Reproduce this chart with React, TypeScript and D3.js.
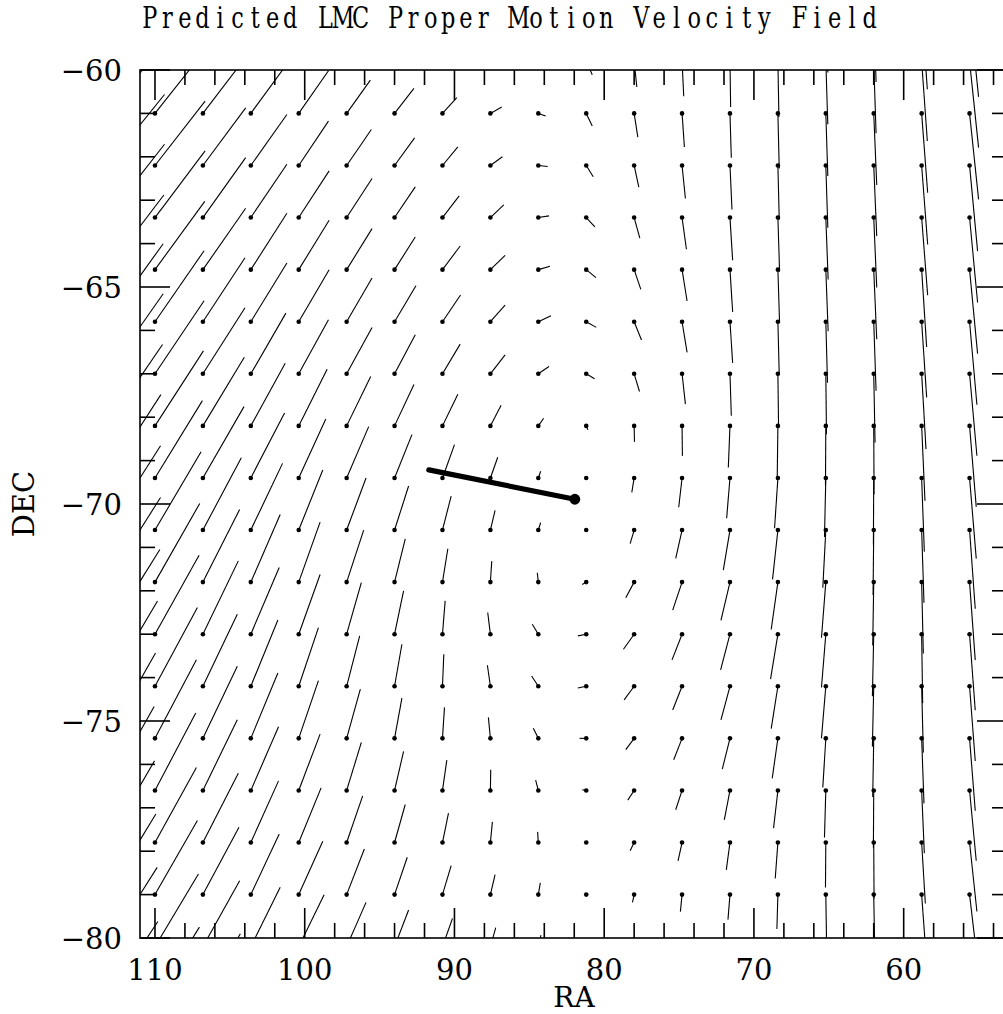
import React from "react";
import * as d3 from "d3";

// ---------- data ----------
const titleText = "Predicted LMC Proper Motion Velocity Field";
const xLabel = "RA";
const yLabel = "DEC";

// grid of field points (RA columns, Dec rows); some lie just outside the frame
const raCols = [113.2, 110.0, 106.8, 103.6, 100.4, 97.2, 94.0, 90.8, 87.6, 84.4, 81.2, 78.0, 74.8, 71.6, 68.4, 65.2, 62.0, 58.8, 55.6];
const decRows = [-58.6, -59.8, -61.0, -62.2, -63.4, -64.6, -65.8, -67.0, -68.2, -69.4, -70.6, -71.8, -73.0, -74.2, -75.4, -76.6, -77.8, -79.0, -80.2, -81.4];

// vector components (arrow units; east = +RA, north = +Dec), one array per RA column, one entry per Dec row
const vecE: (number | null)[][] = [
  [null, null, -172, -172, -172, -170, -168, -168, -166, -161, -160, -160, -158, -151, -145, -141, -142, -146, -150, -152],
  [null, null, -150, -150, -150, -149, -147, -147, -145, -142, -138, -134, -132, -127, -124, -122, -124, -127, -130, -133],
  [null, null, -128, -128, -128, -128, -126, -126, -124, -123, -115, -110, -106, -103, -103, -103, -106, -108, -110, -112],
  [null, null, -108, -108, -108, -108, -108, -105, -103, -101, -95, -88, -85, -81, -81, -83, -83, -85, -88, null],
  [null, null, -89, -89, -91, -91, -91, -89, -85, -81, -72, -64, -64, -59, -59, -64, -67, -72, -76, null],
  [null, null, -71, -74, -76, -76, -76, -76, -72, -66, -58, -51, -44, -39, -41, -44, -48, -53, -58, null],
  [null, null, -58, -60, -62, -62, -64, -62, -58, -52, -42, -32, -27, -22, -22, -27, -32, -38, -42, null],
  [null, null, -43, -46, -50, -53, -54, -53, -46, -36, -26, -16, -8, -4, -6, -13, -18, -26, -30, null],
  [null, null, -34, -36, -40, -44, -44, -44, -32, -22, -14, -4, 8, 9, 6, -1, -6, -14, -16, null],
  [null, null, -22, -28, -32, -35, -38, -32, -16, -7, -7, 3, 18, 20, 15, 8, 2, -6, -8, null],
  [null, -18, -18, -21, -26, -29, -30, -25, -5, -2, 0, 12, 25, 25, 20, 12, 2, 0, null, null],
  [null, -8, -11, -14, -17, -20, -22, -16, -1, 7, 12, 25, 32, 30, 25, 19, 12, 5, null, null],
  [null, -5, -7, -10, -13, -15, -15, -10, -1, 10, 19, 28, 30, 28, 25, 19, 12, 5, null, null],
  [null, -2, -4, -6, -8, -8, -8, -4, 5, 10, 20, 27, 28, 27, 23, 17, 11, 6, null, null],
  [null, -3, -4, -4, -5, -5, -4, -2, 2, 10, 16, 20, 22, 20, 17, 13, 8, 3, null, null],
  [-6, -6, -6, -6, -7, -7, -5, -2, 1, 4, 9, 13, 13, 13, 9, 4, 1, -2, null, null],
  [-7, -7, -9, -9, -9, -9, -7, -4, -1, 1, 2, 3, 4, 4, 3, 1, -1, -3, null, null],
  [-17, -17, -18, -18, -18, -15, -15, -13, -10, -8, -7, -5, -3, -5, -7, -8, -11, -13, null, null],
  [-27, -27, -27, -24, -24, -24, -22, -22, -20, -20, -17, -17, -17, -17, -17, -20, -22, -24, null, null],
];
const vecN: (number | null)[][] = [
  [null, null, 212, 213, 220, 224, 234, 240, 244, 250, 253, 254, 254, 256, 256, 252, 245, 242, 238, 232],
  [null, null, 190, 193, 200, 205, 213, 219, 225, 232, 235, 236, 237, 236, 236, 232, 225, 222, 218, 215],
  [null, null, 168, 173, 180, 184, 192, 198, 206, 214, 217, 218, 220, 216, 216, 212, 208, 202, 198, 195],
  [null, null, 148, 153, 160, 169, 176, 182, 188, 195, 200, 203, 200, 199, 196, 191, 185, 182, 178, null],
  [null, null, 128, 133, 140, 148, 156, 162, 170, 177, 180, 180, 179, 176, 173, 169, 164, 160, 156, null],
  [null, null, 100, 108, 117, 123, 131, 139, 148, 154, 156, 156, 155, 151, 148, 144, 140, 137, 133, null],
  [null, null, 75, 83, 92, 98, 108, 117, 124, 130, 132, 130, 130, 126, 121, 117, 114, 112, 110, null],
  [null, null, 47, 56, 65, 71, 80, 89, 95, 100, 102, 100, 100, 96, 93, 91, 88, 87, 85, null],
  [null, null, 19, 26, 38, 43, 50, 57, 62, 62, 59, 63, 65, 63, 63, 62, 62, 60, 57, null],
  [null, null, -8, -3, 5, 10, 18, 22, 23, 20, 22, 28, 30, 31, 30, 31, 32, 35, 35, null],
  [null, -40, -38, -34, -28, -24, -17, -15, -12, -2, 0, -7, -5, -5, 0, 2, -3, 0, null, null],
  [null, -77, -71, -65, -62, -59, -55, -53, -48, -43, -41, -47, -45, -41, -34, -29, -25, -23, null, null],
  [null, -105, -101, -99, -95, -94, -92, -91, -90, -88, -85, -84, -77, -71, -64, -58, -55, -51, null, null],
  [null, -137, -133, -132, -128, -127, -124, -126, -125, -121, -120, -115, -107, -101, -92, -88, -82, -75, null, null],
  [null, -167, -165, -163, -162, -160, -160, -158, -156, -151, -148, -142, -135, -127, -120, -113, -108, -103, null, null],
  [-190, -189, -188, -187, -186, -185, -183, -181, -179, -177, -173, -167, -160, -156, -147, -141, -135, -130, null, null],
  [-218, -216, -215, -212, -210, -209, -207, -206, -205, -200, -195, -190, -186, -181, -176, -172, -168, -165, null, null],
  [-240, -239, -238, -237, -233, -232, -227, -226, -225, -221, -218, -214, -207, -199, -195, -188, -183, -180, null, null],
  [-263, -259, -258, -257, -255, -252, -249, -246, -243, -242, -236, -234, -228, -224, -217, -211, -207, -205, null, null],
];

// LMC centre and its bulk motion (same arrow units)
const lmcCenter = { ra: 81.96, dec: -69.89 };
const lmcBulk = { e: 437, n: 88 };

const raMajorTicks = [110, 100, 90, 80, 70, 60];
const decMajorTicks = [-60, -65, -70, -75, -80];

// arrow scale: one unit in degrees of Dec; RA stretched by 1/cos(dec0)
const DEG_PER_UNIT = 1 / 130.2;
const COS_DEC0 = Math.cos((69.87 * Math.PI) / 180);

export default function App() {
  const W = 1003;
  const H = 1014;
  const L = 140, R = 1007, T = 70, B = 938;
  const x = d3.scaleLinear().domain([111, 53.1]).range([L, R]);
  const y = d3.scaleLinear().domain([-60, -80]).range([T, B]);

  const raMinor = d3.range(54, 111, 2).filter((v) => !raMajorTicks.includes(v));
  const decMinor = d3.range(-80, -59, 1).filter((v) => !decMajorTicks.includes(v));

  const line = d3.line<[number, number]>().x((d) => x(d[0])).y((d) => y(d[1]));

  const vectors: string[] = [];
  const dots: [number, number][] = [];
  raCols.forEach((ra, ci) => {
    decRows.forEach((dec, ri) => {
      dots.push([ra, dec]);
      const e = vecE[ci][ri];
      const n = vecN[ci][ri];
      if (e === null || n === null) return;
      const ra2 = ra + (e * DEG_PER_UNIT) / COS_DEC0;
      const dec2 = dec + n * DEG_PER_UNIT;
      vectors.push(line([[ra, dec], [ra2, dec2]]) as string);
    });
  });

  const bulkEnd: [number, number] = [
    lmcCenter.ra + (lmcBulk.e * DEG_PER_UNIT) / COS_DEC0,
    lmcCenter.dec + lmcBulk.n * DEG_PER_UNIT,
  ];

  const fmt = (v: number) => String(v).replace("-", "\u2212");
  const labelFont = "'DejaVu Serif', serif";
  const major = 30, minor = 15;
  const sw = 1.6;

  // title: fixed-pitch cells, narrow serif glyphs
  const titleX0 = 141, titleCell = 17.56, titleSX = 0.76;
  const titleXs = Array.from(titleText).map((_, i) => ((titleX0 + (i + 0.5) * titleCell) / titleSX).toFixed(2)).join(" ");

  return (
    <svg width={W} height={H} style={{ position: "absolute", left: 0, top: 0, background: "#fff" }}>
      <rect x={0} y={0} width={W} height={H} fill="#fff" />
      <defs>
        <clipPath id="plotclip">
          <rect x={L} y={T} width={R - L} height={B - T} />
        </clipPath>
      </defs>

      <g transform={`scale(${titleSX},1)`}>
        <text x={titleXs} y={28.5} textAnchor="middle" fontFamily="'DejaVu Serif', serif" fontSize={29.5}
          fill="#000" style={{ whiteSpace: "pre" }}>{titleText}</text>
      </g>

      <g clipPath="url(#plotclip)">
        {vectors.map((d, i) => (
          <path key={"v" + i} d={d} stroke="#000" strokeWidth={1.1} fill="none" />
        ))}
        {dots.map((d, i) => (
          <circle key={"d" + i} cx={x(d[0])} cy={y(d[1])} r={2.3} fill="#000" />
        ))}
        <path d={line([[lmcCenter.ra, lmcCenter.dec], bulkEnd]) as string} stroke="#000"
          strokeWidth={5.2} strokeLinecap="round" fill="none" />
        <circle cx={x(lmcCenter.ra)} cy={y(lmcCenter.dec)} r={5.4} fill="#000" />
      </g>

      {/* frame */}
      <rect x={L} y={T} width={R - L} height={B - T} fill="none" stroke="#000" strokeWidth={sw} />

      {/* RA ticks, bottom and top */}
      {raMajorTicks.map((v) => (
        <g key={"rM" + v}>
          <line x1={x(v)} x2={x(v)} y1={B} y2={B - major} stroke="#000" strokeWidth={sw} />
          <line x1={x(v)} x2={x(v)} y1={T} y2={T + major} stroke="#000" strokeWidth={sw} />
          <text x={x(v)} y={980} textAnchor="middle" fontFamily={labelFont} fontSize={29} fill="#000">{fmt(v)}</text>
        </g>
      ))}
      {raMinor.map((v) => (
        <g key={"rm" + v}>
          <line x1={x(v)} x2={x(v)} y1={B} y2={B - minor} stroke="#000" strokeWidth={sw} />
          <line x1={x(v)} x2={x(v)} y1={T} y2={T + minor} stroke="#000" strokeWidth={sw} />
        </g>
      ))}

      {/* Dec ticks, left and right */}
      {decMajorTicks.map((v) => (
        <g key={"dM" + v}>
          <line x1={L} x2={L + major} y1={y(v)} y2={y(v)} stroke="#000" strokeWidth={sw} />
          <line x1={R} x2={R - major} y1={y(v)} y2={y(v)} stroke="#000" strokeWidth={sw} />
          <text x={122} y={y(v) + 10.6} textAnchor="end" fontFamily={labelFont} fontSize={29} fill="#000">{fmt(v)}</text>
        </g>
      ))}
      {decMinor.map((v) => (
        <g key={"dm" + v}>
          <line x1={L} x2={L + minor} y1={y(v)} y2={y(v)} stroke="#000" strokeWidth={sw} />
          <line x1={R} x2={R - minor} y1={y(v)} y2={y(v)} stroke="#000" strokeWidth={sw} />
        </g>
      ))}

      <text x={574} y={1007} textAnchor="middle" fontFamily={labelFont} fontSize={28} fill="#000">{xLabel}</text>
      <text transform={`translate(33.5,${(T + B) / 2}) rotate(-90)`} textAnchor="middle"
        fontFamily={labelFont} fontSize={29} fill="#000">{yLabel}</text>
    </svg>
  );
}
